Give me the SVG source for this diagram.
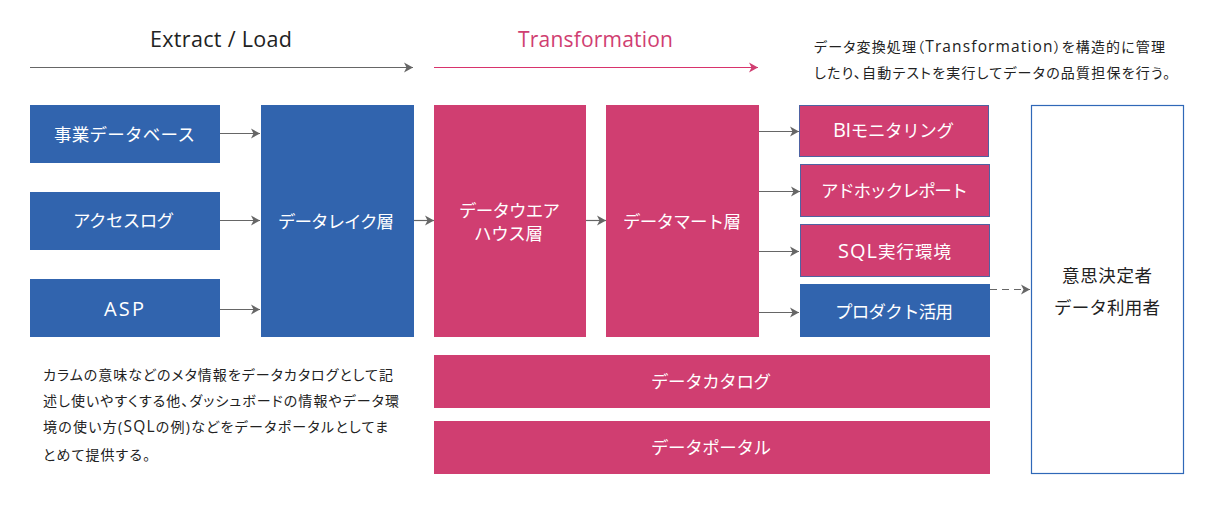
<svg xmlns="http://www.w3.org/2000/svg" width="1218" height="511" viewBox="0 0 1218 511">
<style>
text{font-family:"Open Sans","Noto Sans CJK JP",sans-serif;font-weight:400}
.b{fill:#3164ae}.p{fill:#d03e71}.ps{fill:#d03e71;stroke:#4f62a2;stroke-width:1}
.w{fill:#fff;font-size:17.500px;text-anchor:middle}
.d{fill:#222;font-size:17.500px;text-anchor:middle}
.n{fill:#222;font-size:14px;font-feature-settings:"palt"}
.l{font-size:20px}
.m{font-size:15.500px}
.c{fill:none;stroke:#666;stroke-width:1.2}
.cp{fill:none;stroke:#d8336c;stroke-width:1.2}
</style>
<defs>
<marker id="a" markerUnits="userSpaceOnUse" markerWidth="10" markerHeight="12" refX="9.500" refY="6" orient="auto"><path d="M0.500 1 L9.500 6 L0.500 11 L3 6 Z" fill="#666"/></marker>
<marker id="ap" markerUnits="userSpaceOnUse" markerWidth="10" markerHeight="12" refX="9.500" refY="6" orient="auto"><path d="M0.500 1 L9.500 6 L0.500 11 L3 6 Z" fill="#d03e71"/></marker>
</defs>
<rect width="1218" height="511" fill="#fff"/>
<g id="headers">
<text x="221" y="47" font-size="21.500" fill="#222" text-anchor="middle" textLength="142">Extract / Load</text>
<text x="595.500" y="47" font-size="21" fill="#d03e71" text-anchor="middle" textLength="155">Transformation</text>
</g>
<g id="connectors">
<path class="c" marker-end="url(#a)" d="M30 67.500H413"/>
<path class="cp" marker-end="url(#ap)" d="M434 67.500H758"/>
<path class="c" marker-end="url(#a)" d="M220 133.500H260"/>
<path class="c" marker-end="url(#a)" d="M220 220.500H260"/>
<path class="c" marker-end="url(#a)" d="M220 309.500H260"/>
<path class="c" marker-end="url(#a)" d="M414 220.500H434"/>
<path class="c" marker-end="url(#a)" d="M586 220.500H606"/>
<path class="c" marker-end="url(#a)" d="M759 131.500H799"/>
<path class="c" marker-end="url(#a)" d="M759 191.500H800"/>
<path class="c" marker-end="url(#a)" d="M759 251.500H799"/>
<path class="c" marker-end="url(#a)" d="M759 312.500H799"/>
<path class="c" stroke-dasharray="7 5" marker-end="url(#a)" d="M990 289.500H1030"/>
</g>
<g id="db"><rect class="b" x="30" y="105" width="190" height="58"/><text class="w" x="124.500" y="141" textLength="141">事業データベース</text></g>
<g id="log"><rect class="b" x="30" y="192" width="190" height="58"/><text class="w" x="123.500" y="227" textLength="101">アクセスログ</text></g>
<g id="asp"><rect class="b" x="30" y="279" width="190" height="58"/><text class="w l" x="124" y="316" textLength="40">ASP</text></g>
<g id="lake"><rect class="b" x="261" y="105" width="153" height="232"/><text class="w" x="336" y="228" textLength="116">データレイク層</text></g>
<g id="dwh"><rect class="p" x="434" y="105" width="152" height="232"/><text class="w" x="509.500" y="217" textLength="101">データウエア</text><text class="w" x="508.500" y="240" textLength="69">ハウス層</text></g>
<g id="mart"><rect class="p" x="606" y="105" width="153" height="232"/><text class="w" x="682" y="228" textLength="118">データマート層</text></g>
<g id="bi"><rect class="ps" x="799.500" y="105.500" width="189" height="51"/><text class="w" x="893.500" y="137" textLength="121"><tspan class="l">BI</tspan>モニタリング</text></g>
<g id="adhoc"><rect class="ps" x="800.500" y="164.500" width="189" height="52"/><text class="w" x="894.500" y="197" textLength="147">アドホックレポート</text></g>
<g id="sql"><rect class="ps" x="800.500" y="224.500" width="189" height="52"/><text class="w" x="894.500" y="258" textLength="113"><tspan class="l">SQL</tspan>実行環境</text></g>
<g id="product"><rect class="b" x="800" y="284" width="190" height="53"/><text class="w" x="894" y="318" textLength="118">プロダクト活用</text></g>
<g id="users"><rect x="1031.500" y="105.500" width="152" height="368" fill="#fff" stroke="#2f68b8" stroke-width="1.200"/><text class="d" x="1107" y="282" textLength="90">意思決定者</text><text class="d" x="1107" y="314" textLength="106">データ利用者</text></g>
<g id="catalog"><rect class="p" x="434" y="355" width="556" height="53"/><text class="w" x="711" y="388" textLength="120">データカタログ</text></g>
<g id="portal"><rect class="p" x="434" y="421" width="556" height="53"/><text class="w" x="711" y="454" textLength="120">データポータル</text></g>
<g id="note-top">
<text class="n" x="814" y="52" textLength="351">データ変換処理（<tspan class="m">Transformation</tspan>）を構造的に管理</text>
<text class="n" x="814" y="78" textLength="356">したり、自動テストを実行してデータの品質担保を行う。</text>
</g>
<g id="note-bottom">
<text class="n" x="43" y="380" textLength="350">カラムの意味などのメタ情報をデータカタログとして記</text>
<text class="n" x="43" y="406" textLength="356">述し使いやすくする他、ダッシュボードの情報やデータ環</text>
<text class="n" x="43" y="432" textLength="345">境の使い方(<tspan class="m">SQL</tspan>の例)などをデータポータルとしてま</text>
<text class="n" x="43" y="460" textLength="107">とめて提供する。</text>
</g>
</svg>
